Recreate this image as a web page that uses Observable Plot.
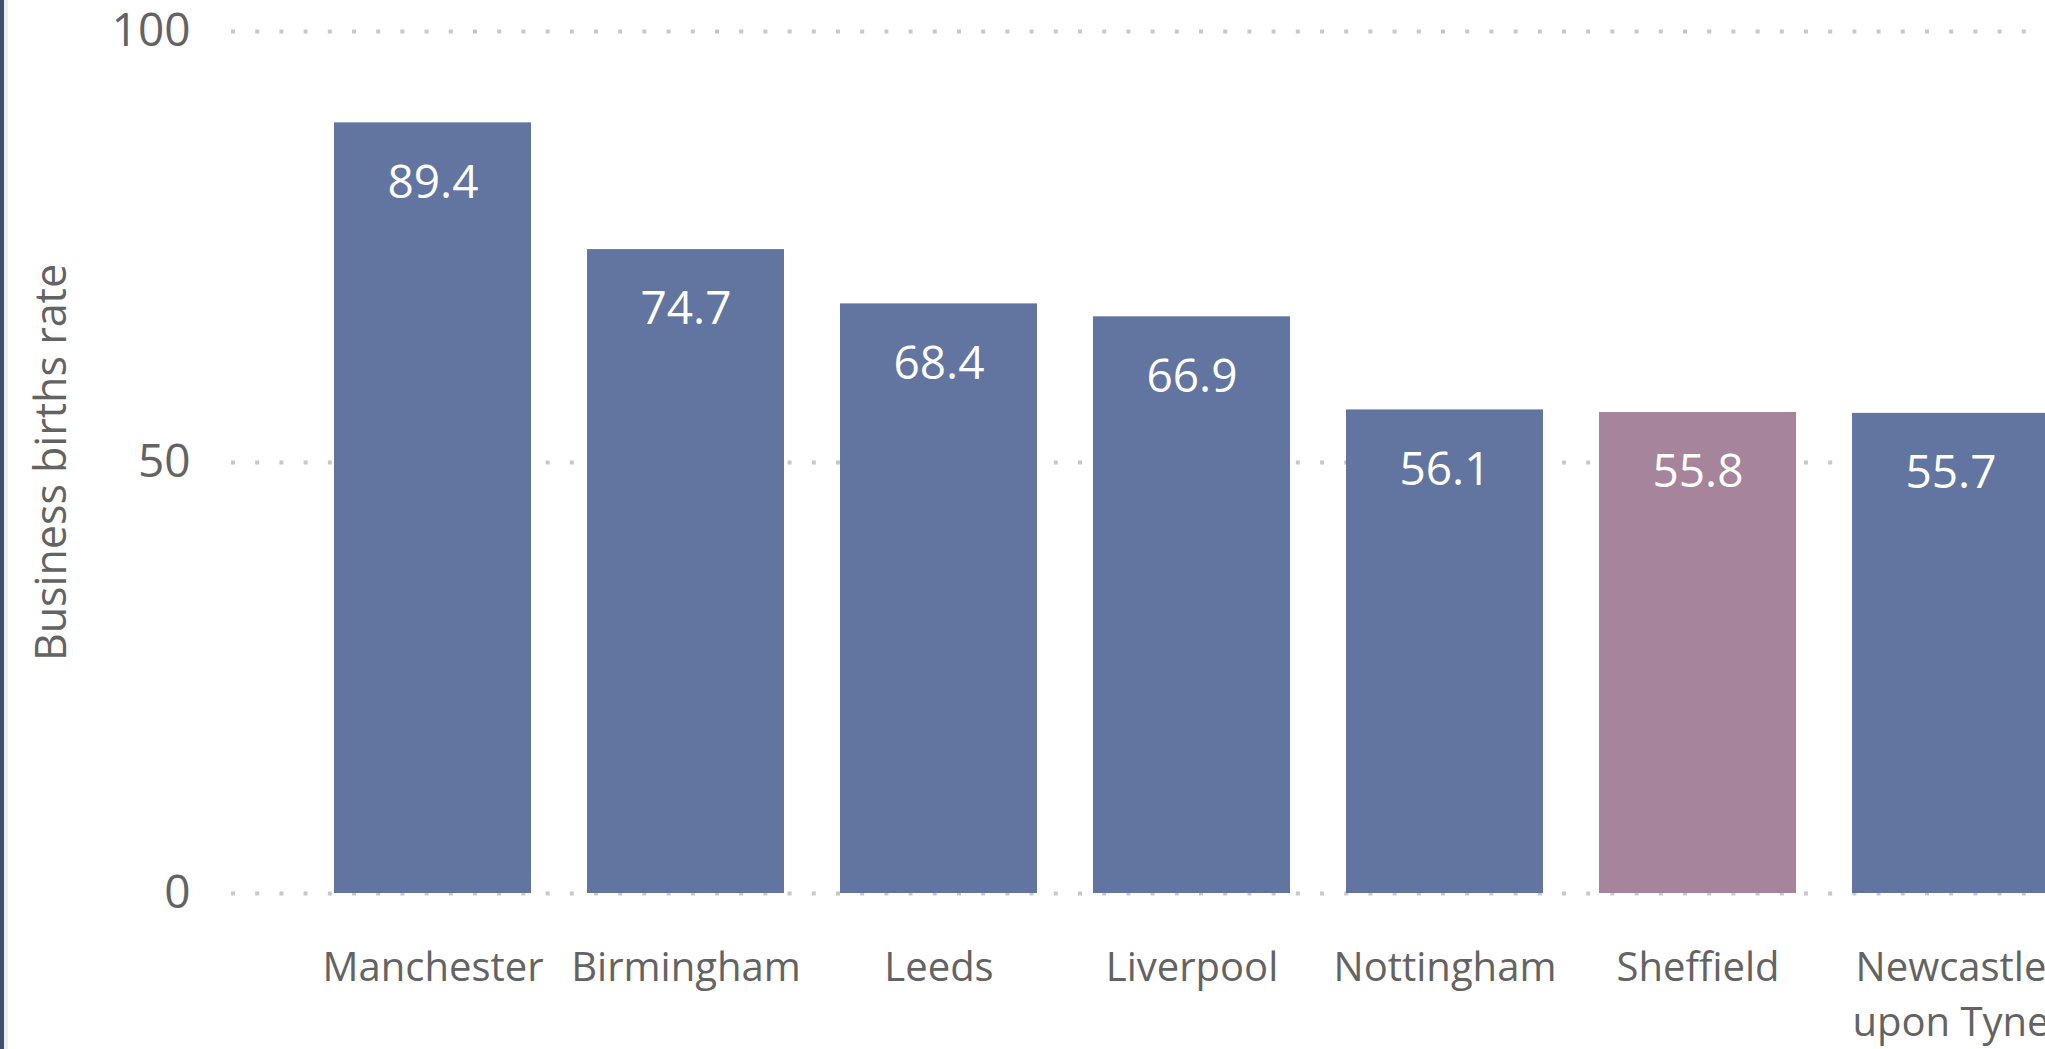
<!DOCTYPE html>
<html>
<head>
<meta charset="utf-8">
<script src="https://cdn.jsdelivr.net/npm/d3@7"></script>
<script src="https://cdn.jsdelivr.net/npm/@observablehq/plot@0.6"></script>
<style>
  html, body { margin: 0; padding: 0; background: #fff; overflow: hidden; width: 2045px; height: 1049px; }
  #wrap { position: relative; width: 2045px; height: 1049px; }
  #wrap svg { position: absolute; left: 0; top: 0; max-width: none; }
  .edge-dark { position: absolute; left: 0; top: 0; width: 4px; height: 1049px; background: #3f506d; }
  .edge-light { position: absolute; left: 4px; top: 0; width: 4px; height: 1049px; background: #eeeeee; }
</style>
</head>
<body>
<div id="wrap"></div>
<script>
const cities = ["Manchester", "Birmingham", "Leeds", "Liverpool", "Nottingham", "Sheffield", "Newcastle upon Tyne"];
const rates = [89.4, 74.7, 68.4, 66.9, 56.1, 55.8, 55.7];
const highlightCity = "Sheffield";
const yTicks = [0, 50, 100];
const yTitle = "Business births rate";

const data = cities.map((c, i) => ({city: c, rate: rates[i]}));

const textColor = "#636363";
const barColor = "#6175a0";
const highlightColor = "#a6849b";

const chart = Plot.plot({
  width: 2045,
  height: 1049,
  marginTop: 31,
  marginBottom: 156,
  marginLeft: 231,
  marginRight: 0,
  style: {fontFamily: "'Open Sans', sans-serif", color: textColor, background: "transparent"},
  x: {type: "band", domain: cities, range: [304.9, 2077.3], paddingInner: 0.222, paddingOuter: 0.111},
  y: {domain: [0, 100]},
  marks: [
    Plot.ruleY(yTicks, {stroke: "#c8c8c8", strokeWidth: 4, strokeDasharray: "4 20.2"}),
    Plot.barY(data, {x: "city", y: "rate", fill: d => d.city === highlightCity ? highlightColor : barColor}),
    Plot.text(data, {x: "city", y: "rate", text: d => d.rate.toFixed(1), fill: "white", fontSize: 46, dy: 60, lineAnchor: "middle"}),
    Plot.axisY({ticks: yTicks, tickSize: 0, tickPadding: 41, fontSize: 46, label: null, fill: textColor}),
    Plot.axisX({tickSize: 0, tickPadding: 48, fontSize: 40, label: null, fill: textColor, lineHeight: 1.375,
      tickFormat: d => d.replace(" upon ", "\nupon ")}),
    Plot.text([yTitle], {frameAnchor: "left", rotate: -90, textAnchor: "middle", lineAnchor: "bottom", dx: 65 - 231, fontSize: 43, fill: textColor})
  ]
});

const wrap = document.getElementById("wrap");
wrap.appendChild(chart);
const d1 = document.createElement("div"); d1.className = "edge-dark"; wrap.appendChild(d1);
const d2 = document.createElement("div"); d2.className = "edge-light"; wrap.appendChild(d2);
</script>
</body>
</html>
